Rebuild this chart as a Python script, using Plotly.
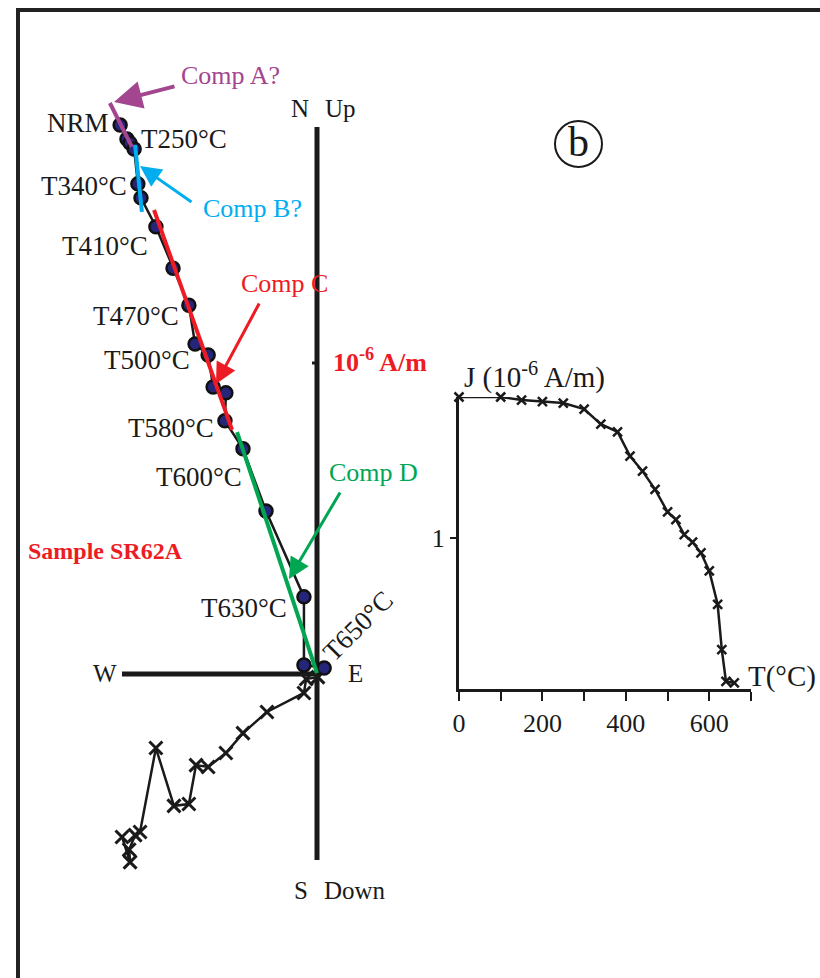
import plotly.graph_objects as go

W, H = 820, 978
FONT = "Liberation Serif"

# ---------------- Zijderveld data (units of 1e-6 A/m) ----------------
# horizontal projection (circles): East, North
h_east = [-0.633, -0.611, -0.601, -0.588, -0.576, -0.566, -0.518, -0.463, -0.412, -0.392,
          -0.350, -0.334, -0.293, -0.296, -0.238, -0.164, -0.042, -0.042, 0.023]
h_north = [1.765, 1.720, 1.707, 1.688, 1.576, 1.531, 1.438, 1.305, 1.186, 1.061,
           1.026, 0.923, 0.904, 0.814, 0.724, 0.524, 0.248, 0.029, 0.019]
# vertical projection (crosses): East, Up
v_east = [-0.627, -0.601, -0.604, -0.585, -0.569, -0.518, -0.460, -0.412, -0.389, -0.350,
          -0.293, -0.238, -0.161, -0.042, -0.035, 0.003]
v_up = [-0.524, -0.605, -0.565, -0.518, -0.508, -0.238, -0.424, -0.418, -0.293, -0.299,
        -0.254, -0.190, -0.122, -0.061, -0.016, -0.010]

# fitted components (start/end, East & North)
comp_names = ["A", "B", "C", "D"]
comp_colors = ["#A3468F", "#00AEEF", "#ED1C24", "#00A651"]
comp_east = [[-0.666, -0.595], [-0.585, -0.563], [-0.524, -0.273], [-0.257, 0.0]]
comp_north = [[1.836, 1.695], [1.701, 1.486], [1.492, 0.785], [0.778, 0.003]]

# ---------------- Thermal demagnetisation curve ----------------
temps = [0, 100, 150, 200, 250, 300, 340, 380, 410, 440, 470, 500, 520, 540, 560,
         580, 600, 620, 630, 640, 660]
J = [1.93, 1.93, 1.91, 1.90, 1.89, 1.85, 1.75, 1.70, 1.54, 1.44, 1.32, 1.17, 1.12,
     1.02, 0.97, 0.90, 0.78, 0.56, 0.26, 0.05, 0.04]
t_ticks = [0, 100, 200, 300, 400, 500, 600, 700]
t_ticktext = ["0", "", "200", "", "400", "", "600", ""]

# ---------------- geometry helpers ----------------
OX, OY, S = 317.0, 674.0, 311.0  # origin pixel & pixels per unit


def px(x):
    return x / W


def py(y):
    return 1 - y / H


fig = go.Figure()

# vertical projection (crosses)
fig.add_trace(go.Scatter(x=v_east, y=v_up, mode="lines+markers",
                         line=dict(color="#1a1a1a", width=2.5),
                         marker=dict(symbol="x-thin", size=13,
                                     line=dict(color="#1a1a1a", width=3)),
                         showlegend=False, cliponaxis=False))
# horizontal projection (circles)
fig.add_trace(go.Scatter(x=h_east, y=h_north, mode="lines+markers",
                         line=dict(color="#1a1a1a", width=2.5),
                         marker=dict(symbol="circle", size=13, color="#25257a",
                                     line=dict(color="#111111", width=2.5)),
                         showlegend=False, cliponaxis=False))

# component fit lines (drawn on top)
for n, c, xe, yn in zip(comp_names, comp_colors, comp_east, comp_north):
    fig.add_trace(go.Scatter(x=xe, y=yn, mode="lines", line=dict(color=c, width=4),
                             hoverinfo="skip", showlegend=False))

# inset curve
fig.add_trace(go.Scatter(x=temps, y=J, xaxis="x2", yaxis="y2", mode="lines+markers",
                         line=dict(color="#1a1a1a", width=2.5),
                         marker=dict(symbol="x-thin", size=9,
                                     line=dict(color="#1a1a1a", width=2.5)),
                         showlegend=False, cliponaxis=False))

shapes = []
# Zijderveld axes
n_top, n_bot = (OY - 127) / S, (OY - 860) / S
e_left, e_right = (122 - OX) / S, (321 - OX) / S
shapes.append(dict(type="line", xref="x", yref="y", x0=0, x1=0, y0=n_bot, y1=n_top,
                   line=dict(color="#1a1a1a", width=5), layer="below"))
shapes.append(dict(type="line", xref="x", yref="y", x0=e_left, x1=e_right, y0=0, y1=0,
                   line=dict(color="#1a1a1a", width=5), layer="below"))
shapes.append(dict(type="line", xref="x", yref="y", x0=-0.016, x1=0, y0=1, y1=1,
                   line=dict(color="#1a1a1a", width=3)))
# frame
shapes.append(dict(type="line", xref="paper", yref="paper", x0=px(18), x1=px(18),
                   y0=0, y1=py(8), line=dict(color="#222222", width=4)))
shapes.append(dict(type="line", xref="paper", yref="paper", x0=px(16), x1=1,
                   y0=py(10), y1=py(10), line=dict(color="#222222", width=4)))
# circled b
shapes.append(dict(type="circle", xref="paper", yref="paper", x0=px(555), x1=px(602),
                   y0=py(167), y1=py(121), line=dict(color="#1a1a1a", width=2)))

ann = []


def text(x, y, t, size=26, color="#1a1a1a", xanchor="center", bold=False, angle=0):
    if bold:
        t = "<b>" + t + "</b>"
    ann.append(dict(xref="paper", yref="paper", x=px(x), y=py(y), text=t,
                    showarrow=False, xanchor=xanchor, yanchor="middle",
                    textangle=angle,
                    font=dict(family=FONT, size=size, color=color)))


def arrow(tail, head, color, width=3):
    ann.append(dict(xref="x", yref="y", axref="x", ayref="y",
                    x=(head[0] - OX) / S, y=(OY - head[1]) / S,
                    ax=(tail[0] - OX) / S, ay=(OY - tail[1]) / S,
                    text="", showarrow=True, arrowhead=2, arrowsize=1.4,
                    arrowwidth=width, arrowcolor=color, standoff=0, startstandoff=0))


arrow((176, 86), (114, 102), comp_colors[0], 4)
arrow((193, 203), (140, 166), comp_colors[1], 3)
arrow((260, 302), (216, 384), comp_colors[2], 3)
arrow((341, 491), (289, 579), comp_colors[3], 3)

text(231, 75, "Comp A?", 26, comp_colors[0])
text(252, 208, "Comp B?", 26, comp_colors[1])
text(284, 284, "Comp C", 26, comp_colors[2])
text(373, 473, "Comp D", 26, comp_colors[3])

text(111, 123, "NRM", 27, xanchor="right")
text(139, 139, "T250°C", 27, xanchor="left")
text(84, 186, "T340°C", 27)
text(105, 246, "T410°C", 27)
text(136, 316, "T470°C", 27)
text(147, 360, "T500°C", 27)
text(171, 428, "T580°C", 27)
text(199, 477, "T600°C", 27)
text(244, 608, "T630°C", 27)
text(358, 626, "T650°C", 27, angle=-45)

text(300, 108, "N", 25)
text(340, 108, "Up", 25)
text(105, 673, "W", 25)
text(355, 673, "E", 25)
text(301, 890, "S", 25)
text(355, 890, "Down", 25)

text(380, 360, "10<sup>-6</sup> A/m", 26, "#ED1C24", bold=True)
text(105, 551, "Sample SR62A", 24, "#ED1C24", bold=True)
text(578, 142, "b", 42)

text(534, 375, "J (10<sup>-6</sup> A/m)", 29)
text(818, 676, "T(°C)", 29, xanchor="right")

fig.update_layout(
    width=W, height=H, margin=dict(l=0, r=0, t=0, b=0, autoexpand=False),
    paper_bgcolor="white", plot_bgcolor="rgba(0,0,0,0)",
    showlegend=False,
    xaxis=dict(range=[(0 - OX) / S, (W - OX) / S], domain=[0, 1], visible=False,
               fixedrange=True),
    yaxis=dict(range=[(OY - H) / S, OY / S], domain=[0, 1], visible=False,
               fixedrange=True),
    xaxis2=dict(domain=[px(459), px(751)], anchor="y2", range=[0, 700],
                showline=True, linecolor="#1a1a1a", linewidth=3, zeroline=False,
                showgrid=False, ticks="outside", ticklen=9, tickwidth=2,
                tickcolor="#1a1a1a", tickvals=t_ticks, ticktext=t_ticktext,
                tickfont=dict(family=FONT, size=26, color="#1a1a1a"),
                fixedrange=True),
    yaxis2=dict(domain=[py(689), py(397)], anchor="x2", range=[0, 1.93],
                showline=True, linecolor="#1a1a1a", linewidth=3, zeroline=False,
                showgrid=False, ticks="outside", ticklen=6, tickwidth=2,
                tickcolor="#1a1a1a", tickvals=[1], ticktext=["1"],
                tickfont=dict(family=FONT, size=26, color="#1a1a1a"),
                fixedrange=True),
    shapes=shapes, annotations=ann,
)

fig.write_html("out.html", config={"displayModeBar": False},
               post_script="document.body.style.margin='0';"
                           "document.body.style.overflow='hidden';")
